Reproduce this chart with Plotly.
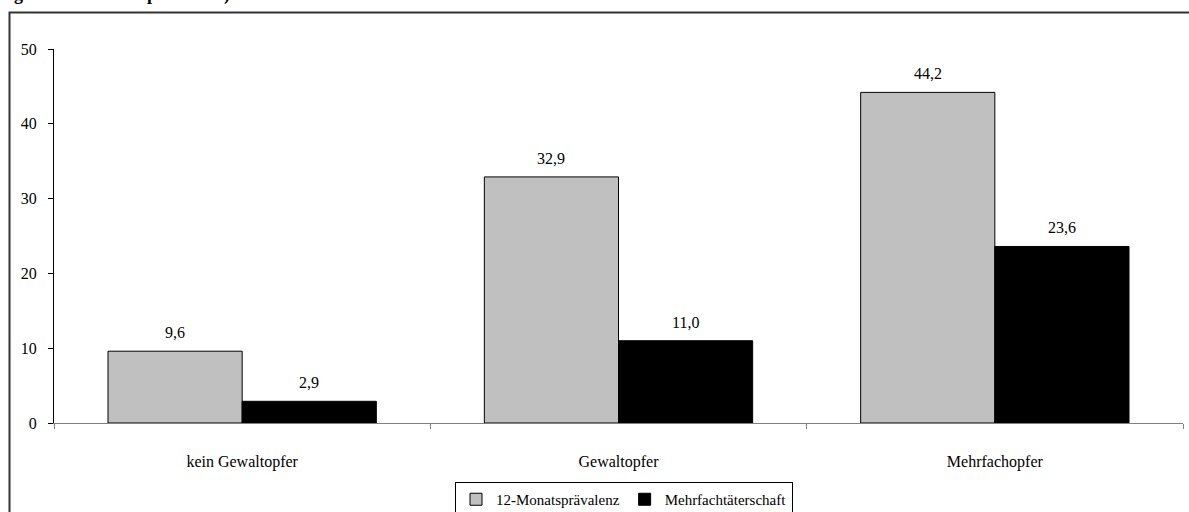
import plotly.graph_objects as go

categories = ["kein Gewaltopfer", "Gewaltopfer", "Mehrfachopfer"]
praevalenz = [9.6, 32.9, 44.2]
mehrfach = [2.9, 11.0, 23.6]
series_names = ["12-Monatsprävalenz", "Mehrfachtäterschaft"]
y_ticks = [0, 10, 20, 30, 40, 50]

FONT = "Liberation Serif"
FS = 16
W, H = 1189, 512
L, R, T, B = 54, 6, 49, 89
pw, ph = W - L - R, H - T - B

def px_to_paper_x(px):
    return (px - L) / pw

def px_to_paper_y(py):
    return (H - B - py) / ph

bargap = 0.287
half = (1 - bargap) / 4

fig = go.Figure()
fig.add_trace(go.Bar(
    x=categories, y=praevalenz, name=series_names[0],
    marker=dict(color="#c0c0c0", line=dict(color="#000000", width=1)),
))
fig.add_trace(go.Bar(
    x=categories, y=mehrfach, name=series_names[1],
    marker=dict(color="#000000", line=dict(color="#000000", width=1)),
))

def fmt(v):
    return f"{v:.1f}".replace(".", ",")

for i, (a, b) in enumerate(zip(praevalenz, mehrfach)):
    for off, v in ((-half, a), (half, b)):
        fig.add_annotation(x=i + off, y=v, xref="x", yref="y", text=fmt(v),
                           showarrow=False, yanchor="bottom", yshift=8,
                           font=dict(family=FONT, size=FS, color="#000"))

# clipped title remnant at the very top
fig.add_annotation(x=px_to_paper_x(12), y=px_to_paper_y(6.5), xref="paper", yref="paper",
                   text="<b>gewichtet nach Opferstatus)</b>", showarrow=False,
                   xanchor="left", yanchor="bottom",
                   font=dict(family=FONT, size=18, color="#000"))

# outer frame (extends beyond right/bottom edge)
fig.add_shape(type="rect", xref="paper", yref="paper",
              x0=px_to_paper_x(9.5), x1=px_to_paper_x(W + 20),
              y0=px_to_paper_y(H + 20), y1=px_to_paper_y(12.5),
              line=dict(color="#333333", width=2), fillcolor="rgba(0,0,0,0)", layer="below")

fig.update_layout(
    width=W, height=H,
    margin=dict(l=L, r=R, t=T, b=B, autoexpand=False),
    paper_bgcolor="white", plot_bgcolor="white",
    barmode="group", bargap=bargap, bargroupgap=0,
    font=dict(family=FONT, size=FS, color="#000"),
    showlegend=True,
    legend=dict(orientation="h", x=px_to_paper_x(624), y=px_to_paper_y(482),
                xanchor="center", yanchor="top",
                bordercolor="#000", borderwidth=1, bgcolor="white",
                font=dict(family=FONT, size=15, color="#000"),
                itemwidth=30, tracegroupgap=0),
    xaxis=dict(showline=True, linecolor="#808080", linewidth=1, automargin=False,
               ticks="outside", tickson="boundaries", ticklen=5, tickcolor="#808080",
               ticklabelstandoff=24, showgrid=False, zeroline=False,
               tickfont=dict(family=FONT, size=FS)),
    yaxis=dict(range=[0, 50], tickvals=y_ticks, showline=True, linecolor="#000", linewidth=1,
               automargin=False,
               ticks="outside", ticklen=5, tickcolor="#000", ticklabelstandoff=8,
               showgrid=False, zeroline=False, tickfont=dict(family=FONT, size=FS)),
)

fig.write_html("out.html", config={"displayModeBar": False},
               post_script="document.body.style.margin='0';document.body.style.padding='0';")
